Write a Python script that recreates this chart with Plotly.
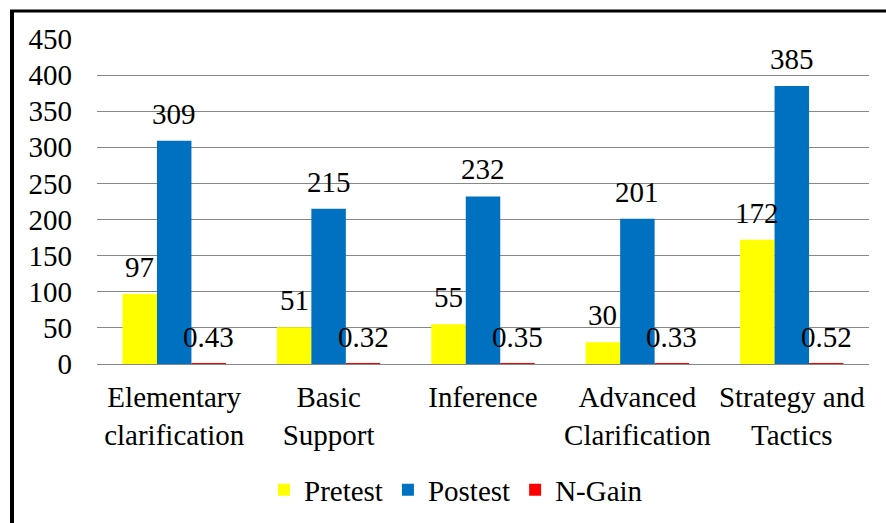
import plotly.graph_objects as go

categories = ["Elementary<br>clarification", "Basic<br>Support", "Inference",
              "Advanced<br>Clarification", "Strategy and<br>Tactics"]
pretest = [97, 51, 55, 30, 172]
postest = [309, 215, 232, 201, 385]
ngain = [0.43, 0.32, 0.35, 0.33, 0.52]
y_ticks = [0, 50, 100, 150, 200, 250, 300, 350, 400, 450]

FONT = "Times New Roman"
FS = 29

W, H = 886, 523
L, R, T, B = 97, 17, 39, 159
pw, ph = W - L - R, H - T - B
BARGAP = 0.33
bar_px = pw / len(categories) * (1 - BARGAP) / 3

fig = go.Figure()
series = [("Pretest", pretest, "#FFFF00"),
          ("Postest", postest, "#0070C0"),
          ("N-Gain", ngain, "#FF0000")]
annotations = []
for i, (name, vals, col) in enumerate(series):
    fig.add_trace(go.Bar(
        name=name, x=categories, y=vals, marker=dict(color=col, line=dict(width=0)),
    ))
    for c, v in zip(categories, vals):
        annotations.append(dict(
            x=c, y=v, xref="x", yref="y", text=f"{v:g}", showarrow=False,
            xshift=(i - 1) * bar_px, yshift=27, yanchor="middle",
            font=dict(family=FONT, size=FS, color="black"),
        ))


def px(x):
    return (x - L) / pw


def py(y):
    return (H - B - y) / ph


fig.update_layout(
    width=W, height=H,
    margin=dict(l=L, r=R, t=T, b=B, autoexpand=False),
    paper_bgcolor="white", plot_bgcolor="white",
    barmode="group", bargap=BARGAP, bargroupgap=0,
    font=dict(family=FONT, size=FS, color="black"),
    showlegend=True,
    legend=dict(orientation="h", x=px(456), xanchor="center", y=py(490), yanchor="middle",
                font=dict(family=FONT, size=FS, color="black"),
                traceorder="normal"),
    xaxis=dict(showgrid=False, showline=False, ticks="", tickfont=dict(family=FONT, size=FS),
               ticklabelstandoff=13, automargin=False),
    yaxis=dict(range=[0, 450], tickvals=y_ticks, showgrid=True, gridcolor="#878787",
               gridwidth=1.3, zeroline=True, zerolinecolor="#878787", zerolinewidth=1.3,
               showline=False, ticks="", tickfont=dict(family=FONT, size=FS),
               ticklabelstandoff=24, automargin=False),
    annotations=annotations,
    shapes=[
        dict(type="line", xref="paper", yref="paper", x0=px(12), x1=px(12),
             y0=py(10), y1=py(H + 5), line=dict(color="black", width=4)),
        dict(type="line", xref="paper", yref="paper", x0=px(10), x1=px(W + 5),
             y0=py(11), y1=py(11), line=dict(color="black", width=3)),
    ],
)

fig.write_html("out.html", config={"displayModeBar": False},
               post_script="document.body.style.margin='0';document.body.style.overflow='hidden';")
